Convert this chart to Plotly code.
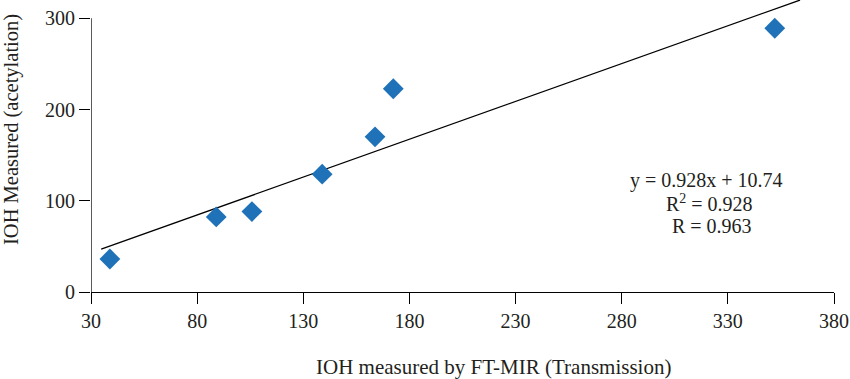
import plotly.graph_objects as go

# Data
ftmir_x = [38.9, 89.0, 105.8, 138.9, 163.8, 172.4, 352.1]
acetyl_y = [36.2, 82.3, 88.2, 129.2, 170.1, 222.8, 289.1]
trend_x = [34.8, 364.0]
trend_y = [47.0, 320.0]
x_ticks = [30, 80, 130, 180, 230, 280, 330, 380]
y_ticks = [0, 100, 200, 300]
eq_lines = ["y = 0.928x + 10.74", "R<sup>2</sup> = 0.928", "R = 0.963"]

FONT = "Liberation Serif, Times New Roman, serif"
TXT = "#231f20"

# plot area in page pixels
PL, PR, PT, PB = 90.7, 834.3, 0.0, 291.7
W, H = 850, 379


def px(xp):
    return (xp - PL) / (PR - PL)


def py(yp):
    return (PB - yp) / (PB - PT)


fig = go.Figure()
fig.add_trace(go.Scatter(x=trend_x, y=trend_y, mode="lines",
                         line=dict(color="black", width=1.3), showlegend=False,
                         hoverinfo="skip"))
fig.add_trace(go.Scatter(x=ftmir_x, y=acetyl_y, mode="markers",
                         marker=dict(symbol="diamond", size=16, color="#1f72b8",
                                     line=dict(width=0)),
                         showlegend=False, cliponaxis=False))

y_top = 300 * (PB - PT) / (PB - 18.3)

fig.update_xaxes(range=[30, 380], tickvals=x_ticks, ticks="outside", ticklen=11,
                 tickwidth=1.3, tickcolor="black", showline=True, linecolor="black",
                 linewidth=1.3, showgrid=False, zeroline=False,
                 tickfont=dict(family=FONT, size=20, color=TXT))
fig.update_yaxes(range=[0, y_top], tickvals=y_ticks, ticks="outside", ticklen=11,
                 tickwidth=1.3, tickcolor="black", showline=False,
                 showgrid=False, zeroline=False, ticklabeloverflow="allow",
                 tickfont=dict(family=FONT, size=20, color=TXT))

# y axis line only from 0 to 300
fig.add_shape(type="line", xref="x", yref="y", x0=30, x1=30, y0=0, y1=y_ticks[-1],
              line=dict(color="black", width=1.3), layer="above")

fig.add_annotation(xref="paper", yref="paper", x=px(494), y=py(367),
                   text="IOH measured by FT-MIR (Transmission)", showarrow=False,
                   font=dict(family=FONT, size=21, color=TXT), xanchor="center", yanchor="middle")
fig.add_annotation(xref="paper", yref="paper", x=px(10.5), y=py(129),
                   text="IOH Measured (acetylation)", showarrow=False, textangle=-90,
                   font=dict(family=FONT, size=20.5, color=TXT), xanchor="center", yanchor="middle")

for t, xc, yc in zip(eq_lines, [706.7, 709.5, 712.0], [180.5, 203.0, 226.0]):
    fig.add_annotation(xref="paper", yref="paper", x=px(xc), y=py(yc), text=t,
                       showarrow=False, font=dict(family=FONT, size=20, color=TXT),
                       xanchor="center", yanchor="middle")

fig.update_layout(width=W, height=H,
                  margin=dict(l=PL, r=W - PR, t=PT, b=H - PB, autoexpand=False),
                  plot_bgcolor="white", paper_bgcolor="white")

fig.write_html("out.html", config={"displayModeBar": False},
               post_script="document.body.style.margin='0';")
